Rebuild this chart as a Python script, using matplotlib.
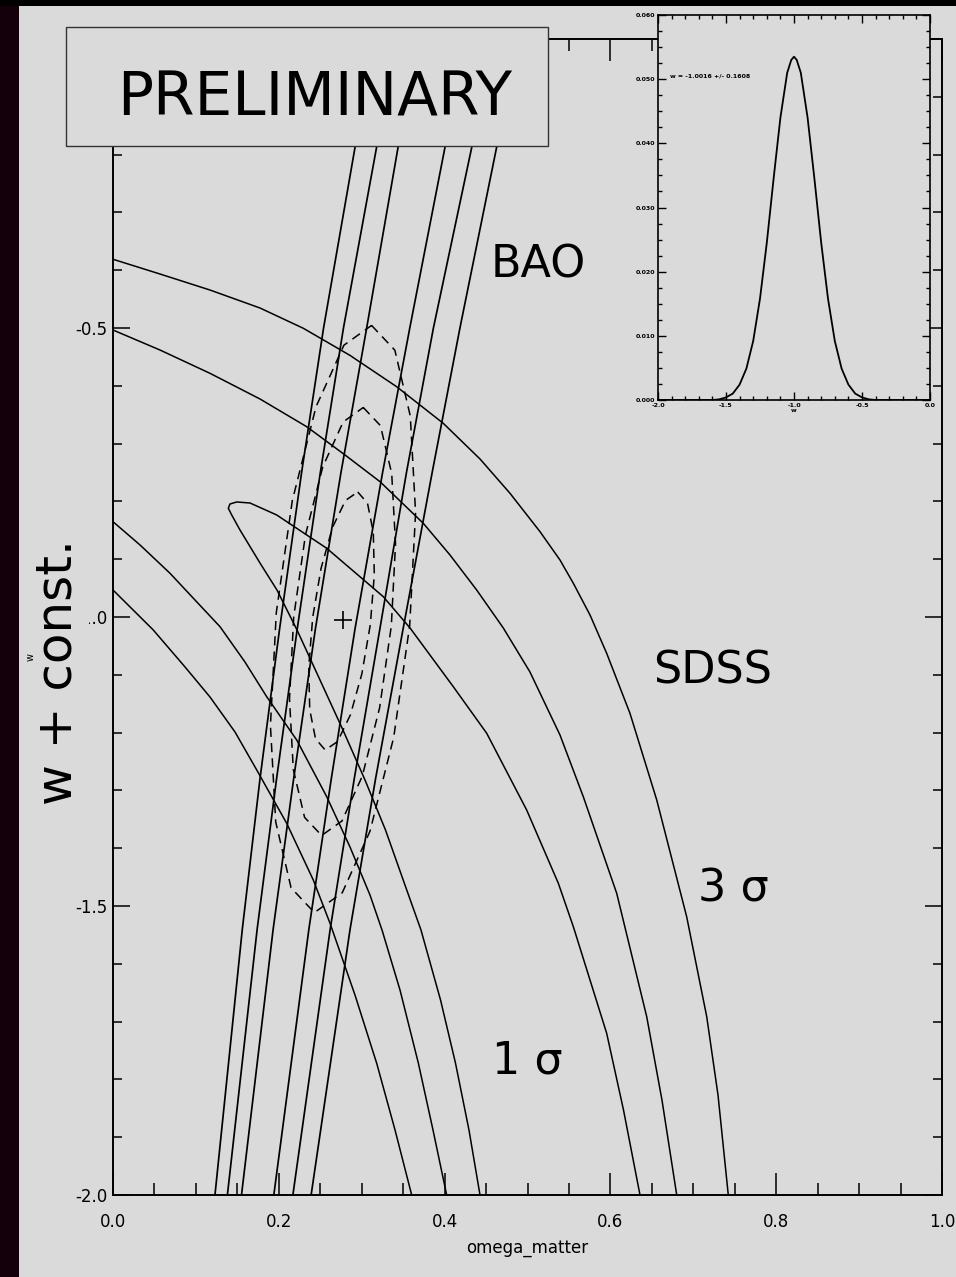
import matplotlib
matplotlib.use('Agg')
import matplotlib.pyplot as plt
from matplotlib.patches import Rectangle
from matplotlib.ticker import MultipleLocator, FixedLocator, FormatStrFormatter

PANEL = '#dadada'

# ---------------- data ----------------
# BAO bands: omega_matter of each band edge at the listed w values
bao_w = [-2.0, -1.54, -1.28, -1.02, -0.75, -0.50, -0.187, 0.0]
bao_3s_left = [0.123, 0.156, 0.1773, 0.201, 0.2275, 0.254, 0.292, 0.3154]
bao_2s_left = [0.138, 0.1739, 0.1973, 0.2223, 0.2501, 0.278, 0.318, 0.3423]
bao_1s_left = [0.155, 0.1932, 0.2179, 0.2442, 0.275, 0.306, 0.3439, 0.3674]
bao_1s_right = [0.194, 0.2363, 0.2633, 0.292, 0.3252, 0.358, 0.4005, 0.4263]
bao_2s_right = [0.217, 0.262, 0.291, 0.322, 0.354, 0.3865, 0.4328, 0.461]
bao_3s_right = [0.239, 0.286, 0.3167, 0.350, 0.385, 0.4185, 0.4628, 0.490]

# SDSS contours
sdss_3s_upper_om = [0.0, 0.0567, 0.1170, 0.1773, 0.2296, 0.2859, 0.3422, 0.3984, 0.4427, 0.4789, 0.5151,
                    0.5392, 0.5553, 0.5754, 0.5955, 0.6236, 0.6559, 0.6920, 0.7162, 0.7298, 0.7422]
sdss_3s_upper_w = [-0.3811, -0.4066, -0.4343, -0.4654, -0.5005, -0.5474, -0.6016, -0.6649, -0.7266, -0.7860,
                   -0.8524, -0.9014, -0.9417, -0.9965, -1.0628, -1.1666, -1.3166, -1.5185, -1.6915, -1.8270, -2.0]
sdss_3s_lower_om = [0.0, 0.0486, 0.0869, 0.1170, 0.1472, 0.1734, 0.2095, 0.2416, 0.2618, 0.2919, 0.3181,
                    0.3402, 0.3603]
sdss_3s_lower_w = [-0.9533, -1.0225, -1.0865, -1.1384, -1.1990, -1.2647, -1.3569, -1.4550, -1.5299, -1.6540,
                   -1.7722, -1.8875, -2.0]
sdss_2s_upper_om = [0.0, 0.0567, 0.1170, 0.1773, 0.2337, 0.2799, 0.3221, 0.3743, 0.4065, 0.4387, 0.4708,
                    0.5030, 0.5392, 0.5673, 0.6076, 0.6438, 0.6622, 0.6800]
sdss_2s_upper_w = [-0.5035, -0.5381, -0.5784, -0.6228, -0.6708, -0.7197, -0.7659, -0.8379, -0.8927, -0.9533,
                   -1.0190, -1.0952, -1.2042, -1.3109, -1.4780, -1.6915, -1.8356, -2.0]
sdss_2s_lower_om = [0.0, 0.0326, 0.0688, 0.0989, 0.1291, 0.1592, 0.1854, 0.2216, 0.2578, 0.2859, 0.3100,
                    0.3245, 0.3462, 0.3683, 0.3860, 0.4025]
sdss_2s_lower_w = [-0.8351, -0.8754, -0.9244, -0.9706, -1.0168, -1.0779, -1.1379, -1.2128, -1.3109, -1.3979,
                   -1.4810, -1.5415, -1.6453, -1.7716, -1.8875, -2.0]
sdss_1s_om = [0.4427, 0.4294, 0.4131, 0.3951, 0.3715, 0.3522, 0.3287, 0.3040, 0.2774, 0.2497, 0.2220,
              0.1978, 0.1773, 0.1532, 0.1432, 0.1391, 0.1411, 0.1492, 0.1653, 0.1975, 0.2578, 0.3261,
              0.3583, 0.4105, 0.4508, 0.4990, 0.5372, 0.5553, 0.5955, 0.6158, 0.6357]
sdss_1s_w = [-2.0, -1.8875, -1.7716, -1.6626, -1.5415, -1.4637, -1.3685, -1.2820, -1.1955, -1.1090, -1.0225,
             -0.9533, -0.9066, -0.8495, -0.8235, -0.8119, -0.8045, -0.8010, -0.8028, -0.8235, -0.8811, -0.9649,
             -1.0190, -1.1206, -1.2012, -1.3339, -1.4607, -1.5358, -1.7202, -1.8529, -2.0]

# combined (dashed) contours
comb_3s_om = [0.3119, 0.3400, 0.3586, 0.3650, 0.3579, 0.3386, 0.3100, 0.2765, 0.2429, 0.2148, 0.1963,
              0.1899, 0.1970, 0.2163, 0.2449, 0.2785, 0.3119]
comb_3s_w = [-0.4955, -0.5384, -0.6522, -0.8194, -1.0147, -1.2083, -1.3706, -1.4772, -1.5114, -1.4685,
             -1.3547, -1.1875, -0.9922, -0.7986, -0.6363, -0.5298, -0.4955]
comb_2s_om = [0.3019, 0.3226, 0.3362, 0.3408, 0.3357, 0.3216, 0.3007, 0.2762, 0.2517, 0.2311, 0.2175,
              0.2129, 0.2180, 0.2321, 0.2530, 0.2776, 0.3019]
comb_2s_w = [-0.6375, -0.6689, -0.7519, -0.8735, -1.0159, -1.1571, -1.2754, -1.3529, -1.3780, -1.3467,
             -1.2638, -1.1420, -0.9997, -0.8585, -0.7403, -0.6626, -0.6375]
comb_1s_om = [0.2952, 0.3070, 0.3140, 0.3152, 0.3104, 0.3002, 0.2864, 0.2708, 0.2560, 0.2443, 0.2373,
              0.2361, 0.2409, 0.2510, 0.2649, 0.2805, 0.2952]
comb_1s_w = [-0.7837, -0.8031, -0.8536, -0.9273, -1.0131, -1.0983, -1.1692, -1.2156, -1.2301, -1.2107,
             -1.1602, -1.0865, -1.0007, -0.9156, -0.8446, -0.7983, -0.7837]
best_fit_om = 0.277
best_fit_w = -1.005

# inset: marginalised likelihood of w
inset_w = [-2.0, -1.6, -1.55, -1.5, -1.45, -1.4, -1.35, -1.3, -1.25, -1.2, -1.15, -1.1, -1.05, -1.02,
           -1.0, -0.98, -0.95, -0.9, -0.85, -0.8, -0.75, -0.7, -0.65, -0.6, -0.55, -0.5, -0.45, -0.4, 0.0]
inset_p = [0.0, 0.0, 0.0001, 0.0004, 0.0010, 0.0024, 0.0049, 0.0092, 0.0158, 0.0245, 0.0345, 0.0440,
           0.0510, 0.0530, 0.0535, 0.0530, 0.0510, 0.0440, 0.0345, 0.0245, 0.0158, 0.0092, 0.0049,
           0.0024, 0.0010, 0.0004, 0.0001, 0.0, 0.0]
inset_text = 'w = -1.0016 +/- 0.1608'

x_ticks = [0.0, 0.2, 0.4, 0.6, 0.8, 1.0]
y_ticks = [-2.0, -1.5, -1.0, -0.5, 0.0]
inset_x_ticks = [-2.0, -1.5, -1.0, -0.5, 0.0]
inset_y_ticks = [0.0, 0.01, 0.02, 0.03, 0.04, 0.05, 0.06]

# ---------------- figure ----------------
fig = plt.figure(figsize=(9.56, 12.77), dpi=100)
fig.patch.set_facecolor(PANEL)
fig.patches.append(Rectangle((0, 0), 19 / 956, 1, transform=fig.transFigure,
                             facecolor='#13000b', edgecolor='none', zorder=0))
fig.patches.append(Rectangle((0, 1 - 6 / 1277), 1, 6 / 1277, transform=fig.transFigure,
                             facecolor='black', edgecolor='none', zorder=0))

ax = fig.add_axes([113 / 956, 82 / 1277, 829 / 956, 1156 / 1277])
ax.set_facecolor(PANEL)
ax.set_xlim(0.0, 1.0)
ax.set_ylim(-2.0, 0.0)

for edge in [bao_3s_left, bao_2s_left, bao_1s_left, bao_1s_right, bao_2s_right, bao_3s_right]:
    ax.plot(edge, bao_w, color='black', lw=1.25)

for xs, ys in [(sdss_3s_upper_om, sdss_3s_upper_w), (sdss_3s_lower_om, sdss_3s_lower_w),
               (sdss_2s_upper_om, sdss_2s_upper_w), (sdss_2s_lower_om, sdss_2s_lower_w),
               (sdss_1s_om, sdss_1s_w)]:
    ax.plot(xs, ys, color='black', lw=1.1)

for xs, ys in [(comb_3s_om, comb_3s_w), (comb_2s_om, comb_2s_w), (comb_1s_om, comb_1s_w)]:
    ax.plot(xs, ys, color='black', lw=1.1, linestyle=(0, (6, 4)))

ax.plot([best_fit_om], [best_fit_w], marker='+', ms=13, mew=1.2, color='black')

lab_kw = dict(fontsize=32, color='black', family='DejaVu Sans', va='baseline', ha='left')
ax.text(0.455, -0.4118, 'BAO', **lab_kw)
ax.text(0.652, -1.1147, 'SDSS', **lab_kw)
ax.text(0.706, -1.4926, '3 σ', **lab_kw)
ax.text(0.457, -1.7894, '1 σ', **lab_kw)

ax.xaxis.set_major_locator(FixedLocator(x_ticks))
ax.xaxis.set_minor_locator(MultipleLocator(0.05))
ax.yaxis.set_major_locator(FixedLocator(y_ticks))
ax.yaxis.set_minor_locator(MultipleLocator(0.1))
ax.xaxis.set_major_formatter(FormatStrFormatter('%.1f'))
ax.yaxis.set_major_formatter(FormatStrFormatter('%.1f'))
ax.tick_params(which='both', direction='in', top=True, right=True, width=1.1, colors='black')
ax.tick_params(axis='x', which='major', length=16, pad=13, labelsize=12)
ax.tick_params(axis='x', which='minor', length=8.5)
ax.tick_params(axis='y', which='major', length=12, pad=4, labelsize=12)
ax.tick_params(axis='y', which='minor', length=6.5)
for s in ax.spines.values():
    s.set_linewidth(1.4)
ax.set_xlabel('omega_matter', fontsize=12, labelpad=6)

# y-axis labels (original small one and the big overlay)
fig.text(57 / 956, 1 - 672 / 1277, 'w + const.', rotation=90, fontsize=36, ha='center', va='center',
         zorder=4, bbox=dict(facecolor=PANEL, edgecolor='none', pad=5.5))
fig.text(31 / 956, 1 - 657 / 1277, 'w', rotation=90, fontsize=7, ha='center', va='center', zorder=5)

# PRELIMINARY box
fig.patches.append(Rectangle((66 / 956, 1 - 146 / 1277), 482 / 956, 119 / 1277,
                             transform=fig.transFigure, facecolor=PANEL, edgecolor='#333333',
                             lw=1.0, zorder=6))
fig.text(315 / 956, 1 - 115 / 1277, 'PRELIMINARY', fontsize=43, ha='center', va='baseline', zorder=7)

# inset
ax2 = fig.add_axes([658 / 956, 1 - 400 / 1277, 272 / 956, 385 / 1277])
ax2.set_facecolor(PANEL)
ax2.plot(inset_w, inset_p, color='black', lw=1.3)
ax2.set_xlim(-2.0, 0.0)
ax2.set_ylim(0.0, 0.06)
ax2.xaxis.set_major_locator(FixedLocator(inset_x_ticks))
ax2.xaxis.set_minor_locator(MultipleLocator(0.1))
ax2.yaxis.set_major_locator(FixedLocator(inset_y_ticks))
ax2.yaxis.set_minor_locator(MultipleLocator(0.0025))
ax2.xaxis.set_major_formatter(FormatStrFormatter('%.1f'))
ax2.yaxis.set_major_formatter(FormatStrFormatter('%.3f'))
ax2.tick_params(which='both', direction='in', top=True, right=True, width=1.0)
ax2.tick_params(which='major', length=6, labelsize=4.5, pad=2)
ax2.tick_params(which='minor', length=3)
for lab in ax2.get_xticklabels() + ax2.get_yticklabels():
    lab.set_fontweight('bold')
for s in ax2.spines.values():
    s.set_linewidth(1.2)
ax2.set_xlabel('w', fontsize=4.5, fontweight='bold', labelpad=0)
ax2.text(-1.91, 0.0505, inset_text, fontsize=4.5, fontweight='bold', va='center', ha='left')

fig.savefig('out.png', dpi=100, facecolor=PANEL)
